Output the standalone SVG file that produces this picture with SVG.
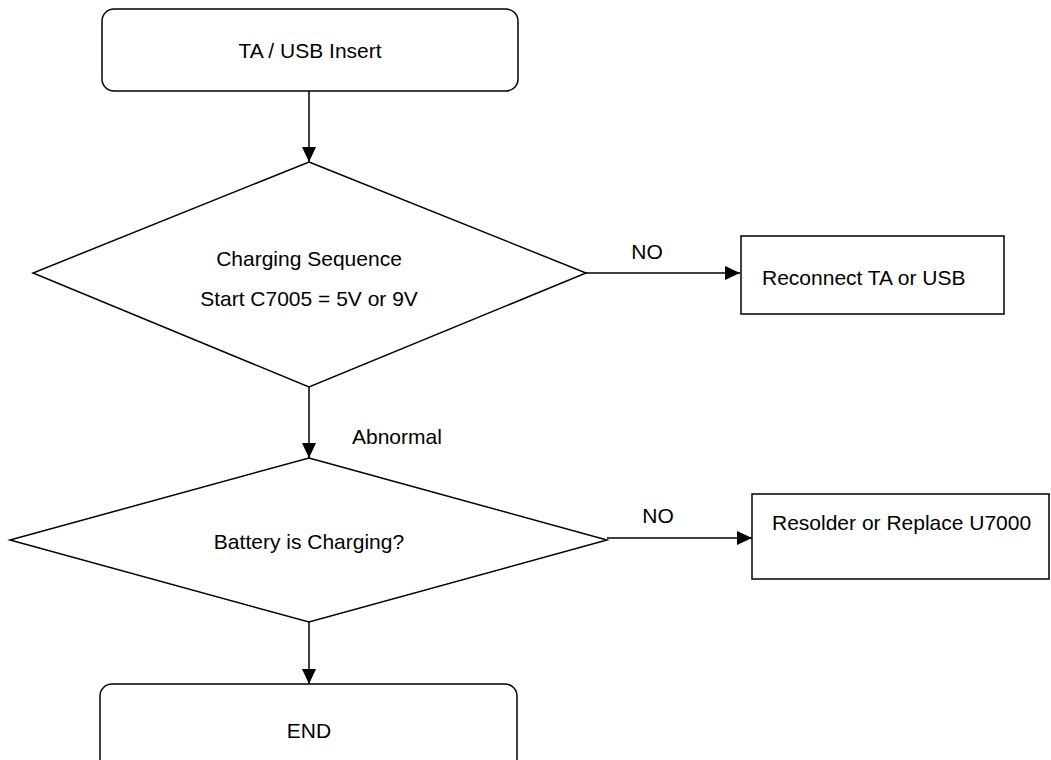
<svg xmlns="http://www.w3.org/2000/svg" width="1051" height="760" viewBox="0 0 1051 760">
<style>
  .shape { fill: #ffffff; stroke: #000000; stroke-width: 1.5; }
  .conn { fill: none; stroke: #000000; stroke-width: 1.5; }
  text { font-family: "Liberation Sans", Arial, sans-serif; font-size: 21px; fill: #000000; }
  .c { text-anchor: middle; }
</style>
<defs>
  <marker id="arrow" markerWidth="16" markerHeight="14" refX="15" refY="7" orient="auto" markerUnits="userSpaceOnUse">
    <path d="M0,0 L15,7 L0,14 Z" fill="#000000"/>
  </marker>
</defs>
<rect width="1051" height="760" fill="#ffffff"/>
<g id="connectors">
  <line class="conn" x1="309" y1="91" x2="309" y2="162" marker-end="url(#arrow)"/>
  <line class="conn" x1="586" y1="273" x2="740" y2="273" marker-end="url(#arrow)"/>
  <text x="647" y="259" class="c">NO</text>
  <line class="conn" x1="309" y1="387" x2="309" y2="458" marker-end="url(#arrow)"/>
  <text x="352" y="444">Abnormal</text>
  <line class="conn" x1="607" y1="538" x2="752" y2="538" marker-end="url(#arrow)"/>
  <text x="658" y="523" class="c">NO</text>
  <line class="conn" x1="309" y1="622" x2="309" y2="684" marker-end="url(#arrow)"/>
</g>
<g id="start">
  <rect class="shape" x="102" y="9" width="416" height="82" rx="12" ry="12"/>
  <text x="310" y="58" class="c">TA / USB Insert</text>
</g>
<g id="decision1">
  <polygon class="shape" points="309,162 586,273 309,387 33,273"/>
  <text x="309" y="266" class="c">Charging Sequence</text>
  <text x="309" y="306" class="c">Start C7005 = 5V or 9V</text>
</g>
<g id="reconnect">
  <rect class="shape" x="741" y="236" width="263" height="78"/>
  <text x="762" y="285">Reconnect TA or USB</text>
</g>
<g id="decision2">
  <polygon class="shape" points="309,458 607,540 309,622 10,540"/>
  <text x="309" y="549" class="c">Battery is Charging?</text>
</g>
<g id="resolder">
  <rect class="shape" x="752" y="494" width="297" height="85"/>
  <text x="772" y="530">Resolder or Replace U7000</text>
</g>
<g id="end">
  <rect class="shape" x="100" y="684" width="417" height="90" rx="12" ry="12"/>
  <text x="309" y="738" class="c">END</text>
</g>
</svg>
